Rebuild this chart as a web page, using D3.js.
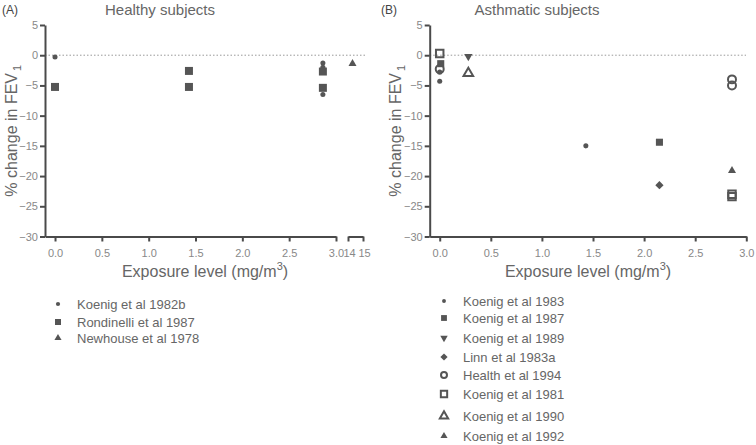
<!DOCTYPE html>
<html>
<head>
<meta charset="utf-8">
<script src="https://cdn.jsdelivr.net/npm/d3@7"></script>
<style>
  body { margin: 0; background: #fff; }
  svg { font-family: "Liberation Sans", Arial, sans-serif; }
  .tick text { fill: #888; font-size: 11px; }
  .axis path, .axis line { stroke: #4a4a4a; stroke-width: 2; }
</style>
</head>
<body>
<svg width="756" height="445"></svg>
<script>
const svg = d3.select("svg");
const ink = "#555";

// Healthy subjects (panel A)
const healthyStudies = ["Koenig et al 1982b", "Rondinelli et al 1987", "Newhouse et al 1978"];
const healthyX = [
  [0, 2.86, 2.86, 2.86],
  [0, 1.43, 1.43, 2.86, 2.86],
  [14.3]
];
const healthyY = [
  [-0.3, -1.3, -2.0, -6.5],
  [-5.25, -2.6, -5.25, -2.7, -5.4],
  [-1.4]
];

// Asthmatic subjects (panel B)
const asthmaStudies = ["Koenig et al 1983", "Koenig et al 1987", "Koenig et al 1989", "Linn et al 1983a",
  "Health et al 1994", "Koenig et al 1981", "Koenig et al 1990", "Koenig et al 1992"];
const asthmaX = [
  [0, 0, 1.43],
  [0.01, 2.15],
  [0.28],
  [2.15],
  [0, 2.86, 2.86],
  [0, 2.86, 2.86],
  [0.28],
  [2.86]
];
const asthmaY = [
  [-2.8, -4.3, -15.0],
  [-1.4, -14.4],
  [-0.2],
  [-21.5],
  [-2.3, -4.0, -5.0],
  [0.3, -23.0, -23.4],
  [-3.0],
  [-19.1]
];

const yTicks = [5, 0, -5, -10, -15, -20, -25, -30];
const xTicks = [0, 0.5, 1.0, 1.5, 2.0, 2.5, 3.0];

// marker styles: [symbol type, area, filled, rotation]
const healthyMarks = [
  [d3.symbolCircle, 20, true],
  [d3.symbolSquare, 64, true],
  [d3.symbolTriangle, 28, true]
];
const healthyLegend = [
  [d3.symbolCircle, 14, true],
  [d3.symbolSquare, 36, true],
  [d3.symbolTriangle, 22, true]
];
const asthmaMarks = [
  [d3.symbolCircle, 20, true],
  [d3.symbolSquare, 50, true],
  [d3.symbolTriangle, 30, true, 180],
  [d3.symbolSquare, 34, true, 45],
  [d3.symbolCircle, 50, false],
  [d3.symbolSquare, 56, false],
  [d3.symbolTriangle, 40, false],
  [d3.symbolTriangle, 28, true]
];
const asthmaLegend = [
  [d3.symbolCircle, 12, true],
  [d3.symbolSquare, 34, true],
  [d3.symbolTriangle, 24, true, 180],
  [d3.symbolSquare, 26, true, 45],
  [d3.symbolCircle, 28, false],
  [d3.symbolSquare, 40, false],
  [d3.symbolTriangle, 30, false],
  [d3.symbolTriangle, 22, true]
];

function mark(g, m, x, y) {
  g.append("path")
    .attr("d", d3.symbol().type(m[0]).size(m[1])())
    .attr("transform", `translate(${x},${y}) rotate(${m[3] || 0})`)
    .attr("fill", m[2] ? ink : "none")
    .attr("stroke", ink)
    .attr("stroke-width", m[2] ? 0 : 2);
}

function panel(o) {
  const g = svg.append("g");
  const y = d3.scaleLinear().domain([5, -30]).range([25, 236.5]);

  // zero reference line
  g.append("line")
    .attr("x1", o.left).attr("x2", o.zeroEnd)
    .attr("y1", y(0)).attr("y2", y(0))
    .attr("stroke", "#999").attr("stroke-width", 1).attr("stroke-dasharray", "1.5,2");

  const ya = g.append("g").attr("class", "axis")
    .attr("transform", `translate(${o.left},0)`)
    .call(d3.axisLeft(y).tickValues(yTicks).tickSize(5).tickSizeOuter(0).tickFormat(d3.format("d")));
  ya.selectAll("text").attr("dx", "1");

  o.xAxes.forEach(ax => {
    const xa = g.append("g").attr("class", "axis")
      .attr("transform", `translate(0,${y(-30)})`)
      .call(d3.axisBottom(ax.scale).tickValues(ax.ticks).tickSize(5).tickSizeOuter(0).tickFormat(ax.fmt));
    xa.selectAll(".tick text").attr("dy", "1.1em");
    if (ax.shift) xa.selectAll(".tick text").attr("dx", ax.shift);
  });

  o.xs.forEach((xs, i) => {
    xs.forEach((xv, j) => mark(g, o.marks[i], o.xScale(xv), y(o.ys[i][j])));
  });

  g.append("text").attr("x", o.tagX).attr("y", 14).attr("fill", "#444")
    .attr("font-size", 12).text(o.tag);
  g.append("text").attr("x", o.titleX).attr("y", 15).attr("text-anchor", "middle")
    .attr("fill", "#666").attr("font-size", 15).text(o.title);

  const yl = g.append("text")
    .attr("transform", `translate(${o.yLabelX},${y(-12.5)}) rotate(-90)`)
    .attr("text-anchor", "middle").attr("fill", "#666").attr("font-size", 16);
  yl.append("tspan").text("% change in FEV");
  yl.append("tspan").attr("font-size", 11).attr("dy", 4).attr("dx", 2).text("1");

  const xl = g.append("text")
    .attr("x", o.xLabelX).attr("y", 277).attr("text-anchor", "middle")
    .attr("fill", "#666").attr("font-size", 16);
  xl.append("tspan").text("Exposure level (mg/m");
  xl.append("tspan").attr("font-size", 11).attr("dy", -7).text("3");
  xl.append("tspan").attr("dy", 7).text(")");

  o.studies.forEach((s, i) => {
    mark(g, o.legendMarks[i], o.legX, o.legY[i]);
    g.append("text").attr("x", o.legX + 19).attr("y", o.legY[i] + 4.5)
      .attr("fill", "#666").attr("font-size", 13).text(s);
  });
}

// panel A: broken x axis 0–3 | 14–15
const xA1 = d3.scaleLinear().domain([-0.107, 3.0]).range([45, 336]);
const xA2 = d3.scaleLinear().domain([14, 15]).range([348, 363]);
const xA = v => v > 3.5 ? xA2(v) : xA1(v);
panel({
  left: 45, zeroEnd: 365, xScale: xA,
  xAxes: [
    { scale: xA1, ticks: xTicks, fmt: d3.format(".1f") },
    { scale: xA2, ticks: [14, 15], fmt: d3.format("d"), shift: 1 }
  ],
  xs: healthyX, ys: healthyY, marks: healthyMarks, legendMarks: healthyLegend,
  studies: healthyStudies,
  tag: "(A)", tagX: 2, title: "Healthy subjects", titleX: 160,
  yLabelX: 17, xLabelX: 205,
  legX: 58, legY: [304, 322, 338]
});

// panel B
const xB = d3.scaleLinear().domain([-0.098, 3.0]).range([429.7, 746.3]);
panel({
  left: 429.7, zeroEnd: 746, xScale: xB,
  xAxes: [{ scale: xB, ticks: xTicks, fmt: d3.format(".1f") }],
  xs: asthmaX, ys: asthmaY, marks: asthmaMarks, legendMarks: asthmaLegend,
  studies: asthmaStudies,
  tag: "(B)", tagX: 381, title: "Asthmatic subjects", titleX: 537,
  yLabelX: 401, xLabelX: 588,
  legX: 444, legY: [301, 318, 338, 357, 375, 394, 416, 436]
});
</script>
</body>
</html>
